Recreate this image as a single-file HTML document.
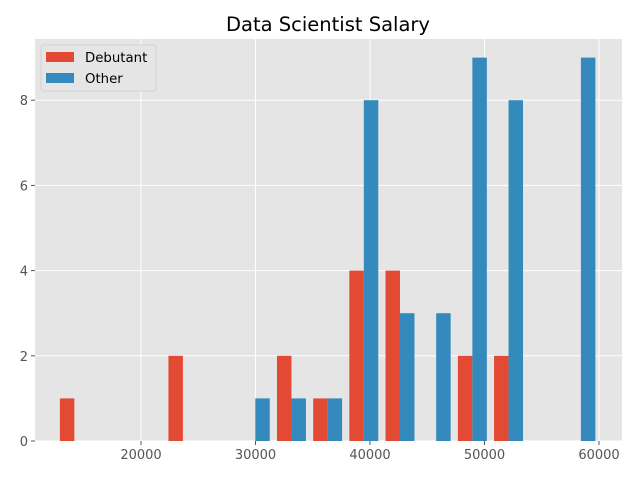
<!DOCTYPE html>
<html><head><meta charset="utf-8"><style>
html,body{margin:0;padding:0;background:#fff;}
svg{display:block;font-family:"DejaVu Sans","Liberation Sans",sans-serif;}
</style></head><body>
<svg id="chart" width="640" height="480">
<rect x="0" y="0" width="640" height="480" fill="#fff"/>
<rect x="35" y="39" width="587" height="402" fill="#E5E5E5"/>
<g id="grid"></g>
<g id="bars"></g>
<g id="xticks"></g>
<g id="yticks"></g>
<text x="328" y="31" text-anchor="middle" font-size="19.5" fill="#000">Data Scientist Salary</text>
<g>
<rect x="41" y="45" width="115" height="46" rx="3" fill="#E5E5E5" stroke="#ccc" stroke-width="0.8"/>
<g>
<rect x="46" y="52" width="28" height="10" fill="#E24A33"/>
<text x="85" y="62" font-size="13.3" fill="#000">Debutant</text>
</g>
<g>
<rect x="46" y="73" width="28" height="10" fill="#348ABD"/>
<text x="85" y="83" font-size="13.3" fill="#000">Other</text>
</g>
</g>
</svg>
<script>
const binMin = 12600;
const binMax = 60000;
const debutantCounts = [1,0,0,2,0,0,2,1,4,4,0,2,2,0,0];
const otherCounts = [0,0,0,0,0,1,1,1,8,3,3,9,8,0,9];
const xTickValues = [20000,30000,40000,50000,60000];
const yTickValues = [0,2,4,6,8];

const NS = "http://www.w3.org/2000/svg";
const plot = {l:35, r:622, t:39, b:441};
function xScale(v){ return 141 + (v-20000)/1000*11.45; }
function yScale(v){ return 441 - v*42.6; }
function mk(tag, attrs, parent){
  const e = document.createElementNS(NS, tag);
  for (const k in attrs) e.setAttribute(k, attrs[k]);
  parent.appendChild(e);
  return e;
}
const grid = document.getElementById('grid');
const xt = document.getElementById('xticks');
const yt = document.getElementById('yticks');
const barsG = document.getElementById('bars');

xTickValues.forEach(v=>{
  const x = xScale(v);
  const gl = mk('line',{x1:x,x2:x,y1:plot.t,y2:plot.b,stroke:'#fff','stroke-width':1},grid);
  
  
  const tk = mk('line',{x1:x,x2:x,y1:plot.b,y2:plot.b+4,stroke:'#555','stroke-width':1},xt);
  
  
  const t = mk('text',{x:x,y:plot.b+18,'text-anchor':'middle','font-size':13,fill:'#555'},xt);
  t.textContent = v;
  
  
});
yTickValues.forEach(v=>{
  const y = yScale(v);
  const gl = mk('line',{x1:plot.l,x2:plot.r,y1:y,y2:y,stroke:'#fff','stroke-width':1},grid);
  
  
  const tk = mk('line',{x1:plot.l-4,x2:plot.l,y1:y,y2:y,stroke:'#555','stroke-width':1},yt);
  
  
  const t = mk('text',{x:plot.l-7,y:y+5,'text-anchor':'end','font-size':13,fill:'#555'},yt);
  t.textContent = v;
  
  
});

const nBins = debutantCounts.length;
const bw = (binMax-binMin)/nBins;
for (let i=0;i<nBins;i++){
  const e0 = binMin + i*bw;
  const w = 0.4*bw;
  const series = [[debutantCounts[i],'#E24A33','debutant'],[otherCounts[i],'#348ABD','other']];
  series.forEach((s,j)=>{
    if (s[0]<=0) return;
    const v0 = e0 + 0.1*bw + j*w;
    const x0 = xScale(v0), x1 = xScale(v0+w);
    const r = mk('rect',{x:x0,y:yScale(s[0]),width:x1-x0,height:yScale(0)-yScale(s[0]),fill:s[1]},barsG);
    
    
  });
}
</script>
</body></html>
